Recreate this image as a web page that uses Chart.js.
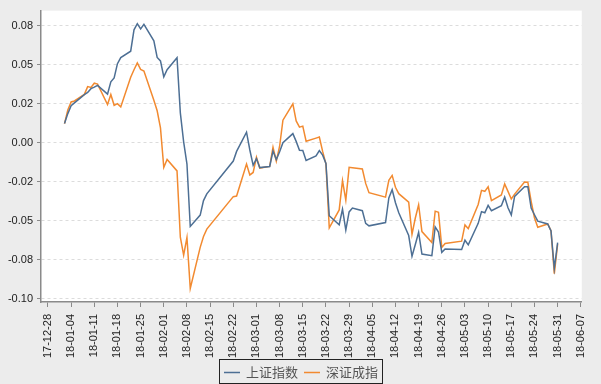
<!DOCTYPE html>
<html>
<head>
<meta charset="utf-8">
<script src="https://cdn.jsdelivr.net/npm/chart.js@4.4.0/dist/chart.umd.min.js"></script>
<style>
  body { margin: 0; background: #ececec; }
</style>
</head>
<body>
<canvas id="c" width="601" height="384" style="display:block"></canvas>
<script>
// trading days, 2018
const dates = [
  '2018-01-02','2018-01-03','2018-01-04','2018-01-05','2018-01-08','2018-01-09','2018-01-10','2018-01-11','2018-01-12',
  '2018-01-15','2018-01-16','2018-01-17','2018-01-18','2018-01-19','2018-01-22','2018-01-23','2018-01-24','2018-01-25','2018-01-26',
  '2018-01-29','2018-01-30','2018-01-31','2018-02-01','2018-02-02','2018-02-05','2018-02-06','2018-02-07','2018-02-08','2018-02-09',
  '2018-02-12','2018-02-13','2018-02-14','2018-02-22','2018-02-23','2018-02-26','2018-02-27','2018-02-28','2018-03-01','2018-03-02',
  '2018-03-05','2018-03-06','2018-03-07','2018-03-08','2018-03-09','2018-03-12','2018-03-13','2018-03-14','2018-03-15','2018-03-16',
  '2018-03-19','2018-03-20','2018-03-21','2018-03-22','2018-03-23','2018-03-26','2018-03-27','2018-03-28','2018-03-29','2018-03-30',
  '2018-04-02','2018-04-03','2018-04-04','2018-04-09','2018-04-10','2018-04-11','2018-04-12','2018-04-13',
  '2018-04-16','2018-04-17','2018-04-18','2018-04-19','2018-04-20','2018-04-23','2018-04-24','2018-04-25','2018-04-26','2018-04-27',
  '2018-05-02','2018-05-03','2018-05-04','2018-05-07','2018-05-08','2018-05-09','2018-05-10','2018-05-11',
  '2018-05-14','2018-05-15','2018-05-16','2018-05-17','2018-05-18','2018-05-21','2018-05-22','2018-05-23','2018-05-24','2018-05-25',
  '2018-05-28','2018-05-29','2018-05-30','2018-05-31'
];

const shIndex = [
  0.0124,0.0187,0.0238,0.0256,0.0309,0.0323,0.0347,0.0357,0.0368,
  0.0312,0.0391,0.0416,0.0507,0.0546,0.0587,0.0724,0.0763,0.0729,0.0759,
  0.0653,0.0547,0.0525,0.0423,0.0468,0.0545,0.0192,0.0006,-0.0136,-0.0536,
  -0.0463,-0.0370,-0.0327,-0.0117,-0.0055,0.0068,-0.0046,-0.0144,-0.0101,-0.0159,
  -0.0152,-0.0053,-0.0107,-0.0057,0.0000,0.0059,0.0009,-0.0048,-0.0049,-0.0113,
  -0.0084,-0.0050,-0.0079,-0.0132,-0.0467,-0.0525,-0.0425,-0.0559,-0.0443,-0.0418,
  -0.0435,-0.0516,-0.0532,-0.0511,-0.0353,-0.0300,-0.0384,-0.0448,
  -0.0594,-0.0727,-0.0652,-0.0574,-0.0713,-0.0723,-0.0539,-0.0572,-0.0702,-0.0680,
  -0.0683,-0.0624,-0.0654,-0.0516,-0.0441,-0.0448,-0.0401,-0.0435,
  -0.0403,-0.0348,-0.0416,-0.0462,-0.0344,-0.0282,-0.0281,-0.0418,-0.0461,-0.0502,
  -0.0520,-0.0565,-0.0804,-0.0640
];

const szIndex = [
  0.0123,0.0210,0.0262,0.0268,0.0310,0.0360,0.0355,0.0382,0.0376,
  0.0245,0.0310,0.0240,0.0251,0.0230,0.0420,0.0468,0.0512,0.0470,0.0460,
  0.0272,0.0205,0.0095,-0.0158,-0.0107,-0.0180,-0.0605,-0.0720,-0.0607,-0.0933,
  -0.0670,-0.0600,-0.0553,-0.0345,-0.0341,-0.0136,-0.0206,-0.0190,-0.0093,-0.0162,
  -0.0151,-0.0029,-0.0118,-0.0022,0.0145,0.0250,0.0140,0.0100,0.0107,0.0010,
  0.0030,0.0037,-0.0055,-0.0137,-0.0545,-0.0430,-0.0243,-0.0368,-0.0157,-0.0160,
  -0.0168,-0.0260,-0.0320,-0.0348,-0.0240,-0.0209,-0.0285,-0.0326,
  -0.0380,-0.0586,-0.0482,-0.0397,-0.0569,-0.0639,-0.0438,-0.0445,-0.0670,-0.0645,
  -0.0630,-0.0526,-0.0550,-0.0395,-0.0305,-0.0311,-0.0282,-0.0370,
  -0.0334,-0.0264,-0.0311,-0.0360,-0.0329,-0.0251,-0.0253,-0.0375,-0.0480,-0.0541,
  -0.0520,-0.0563,-0.0838,-0.0650
];

const xTickLabels = [
  '17-12-28','18-01-04','18-01-11','18-01-18','18-01-25','18-02-01','18-02-08','18-02-15',
  '18-02-22','18-03-01','18-03-08','18-03-15','18-03-22','18-03-29','18-04-05','18-04-12',
  '18-04-19','18-04-26','18-05-03','18-05-10','18-05-17','18-05-24','18-05-31','18-06-07'
];
const yTickValues = [-0.1, -0.075, -0.05, -0.025, 0, 0.025, 0.05, 0.075];
const yTickLabels = ['-0.10', '-0.08', '-0.05', '-0.02', '0.00', '0.02', '0.05', '0.08'];

const seriesNames = ['上证指数', '深证成指'];
const seriesColors = ['#4d6f94', '#f28a30'];

// day number counted from 2017-12-28
const day0 = Date.UTC(2017, 11, 28);
function dayNum(s) {
  const p = s.split('-').map(Number);
  if (p[0] < 100) p[0] += 2000;
  return (Date.UTC(p[0], p[1] - 1, p[2]) - day0) / 864e5;
}
const xs = dates.map(dayNum);
const xTickValues = xTickLabels.map(dayNum);

const plotBg = {
  id: 'plotBg',
  beforeDraw(chart) {
    const {ctx, chartArea: a} = chart;
    ctx.save();
    ctx.fillStyle = '#ffffff';
    ctx.fillRect(a.left, a.top, a.right - a.left, a.bottom - a.top);
    ctx.restore();
  }
};

// boxed legend under the axis labels
const boxLegend = {
  id: 'boxLegend',
  afterDraw(chart) {
    const ctx = chart.ctx;
    const ds = chart.data.datasets;
    const lineW = 16, gap = 6, between = 6, pad = 4;
    ctx.save();
    ctx.font = '13px "Noto Sans CJK SC"';
    const widths = ds.map(d => lineW + gap + ctx.measureText(d.label).width);
    const total = widths.reduce((a, b) => a + b, 0) + between * (ds.length - 1);
    let x = Math.round(chart.width / 2 - total / 2) + 1;
    const cy = 372.5;
    ctx.strokeStyle = '#222';
    ctx.lineWidth = 1;
    ctx.strokeRect(x - pad - 0.5, 359.5, total + pad * 2 + 1, 24);
    ctx.textBaseline = 'middle';
    ds.forEach((d, i) => {
      ctx.strokeStyle = d.borderColor;
      ctx.lineWidth = 1.5;
      ctx.beginPath();
      ctx.moveTo(x, cy);
      ctx.lineTo(x + lineW, cy);
      ctx.stroke();
      ctx.fillStyle = '#555';
      ctx.fillText(d.label, x + lineW + gap, cy);
      x += widths[i] + between;
    });
    ctx.restore();
  }
};

const tickFont = {family: '"Liberation Sans", Arial, sans-serif', size: 11};

new Chart(document.getElementById('c'), {
  type: 'line',
  data: {
    datasets: [
      {label: seriesNames[0], data: xs.map((x, i) => ({x, y: shIndex[i]})), borderColor: seriesColors[0], backgroundColor: seriesColors[0]},
      {label: seriesNames[1], data: xs.map((x, i) => ({x, y: szIndex[i]})), borderColor: seriesColors[1], backgroundColor: seriesColors[1]}
    ]
  },
  options: {
    responsive: false,
    animation: false,
    layout: {padding: {top: 4, right: 3, bottom: 22, left: 0}},
    elements: {
      line: {borderWidth: 1.5, tension: 0, fill: false},
      point: {radius: 0}
    },
    plugins: {legend: {display: false}, tooltip: {enabled: false}},
    scales: {
      x: {
        type: 'linear',
        min: -2.1,
        max: 161.3,
        afterBuildTicks: s => { s.ticks = xTickValues.map(v => ({value: v})); },
        afterFit: s => { s.height = 60; },
        ticks: {
          autoSkip: false,
          minRotation: 90,
          maxRotation: 90,
          padding: 7,
          font: tickFont,
          color: '#222',
          callback: (v, i) => xTickLabels[i]
        },
        grid: {drawOnChartArea: false, tickLength: 5, tickColor: '#8a8a8a'},
        border: {color: '#8a8a8a', width: 1.5}
      },
      y: {
        min: -0.102,
        max: 0.0847,
        afterBuildTicks: s => { s.ticks = yTickValues.map(v => ({value: v})); },
        afterFit: s => { s.width = 41; },
        ticks: {
          padding: 4,
          font: tickFont,
          color: '#222',
          callback: v => yTickLabels[yTickValues.indexOf(v)]
        },
        grid: {color: '#dcdcdc', tickLength: 4, tickColor: '#8a8a8a', tickBorderDash: []},
        border: {color: '#8a8a8a', width: 1.5, dash: [3, 3]}
      }
    }
  },
  plugins: [plotBg, boxLegend]
});
</script>
</body>
</html>
